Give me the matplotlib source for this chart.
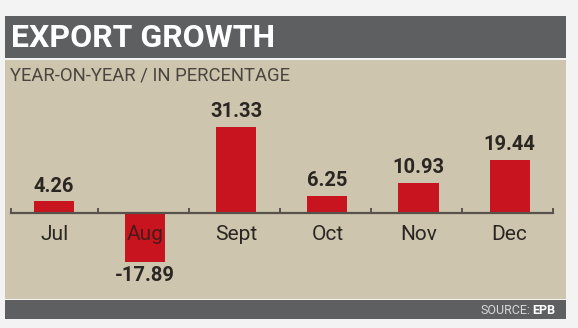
import matplotlib
matplotlib.use("Agg")
import matplotlib.pyplot as plt
from matplotlib.patches import Rectangle

months = ["Jul", "Aug", "Sept", "Oct", "Nov", "Dec"]
growth = [4.26, -17.89, 31.33, 6.25, 10.93, 19.44]

BG = "#f3f3f3"
DARK = "#5e5f61"
BEIGE = "#cec5ae"
RED = "#c8141f"
TXT = "#2a2622"
FONT = ["Roboto", "DejaVu Sans"]

W, H = 578, 328
fig = plt.figure(figsize=(W / 100, H / 100), dpi=100, facecolor=BG)

# fondo in coordinate pixel
bg = fig.add_axes([0, 0, 1, 1])
bg.set_xlim(0, W); bg.set_ylim(H, 0); bg.axis("off")
bg.add_patch(Rectangle((5, 16), 561, 42, fc=DARK, ec="none"))
bg.add_patch(Rectangle((5, 60), 561, 239, fc=BEIGE, ec="none"))
bg.add_patch(Rectangle((5, 300), 561, 19, fc=DARK, ec="none"))
bg.text(11, 38, "EXPORT GROWTH", color="white", fontsize=23, fontweight="bold",
        va="center", ha="left", family=FONT)
bg.text(10, 75, "YEAR-ON-YEAR / IN PERCENTAGE", color="#4a463f", fontsize=13.3,
        va="center", ha="left", family=FONT)
bg.text(530, 310, "SOURCE:", color="#d8d8d8", fontsize=9, va="center", ha="right", family=FONT)
bg.text(555, 310, "EPB", color="white", fontsize=9, fontweight="bold", va="center",
        ha="right", family=FONT)

# grafico
ax = fig.add_axes([5 / W, 1 - 298 / H, 561 / W, 238 / H])
ax.patch.set_alpha(0)
x = range(len(months))
ax.bar(x, growth, width=0.44, color=RED, zorder=2)
ax.set_xlim(-0.54, 5.62)
ax.set_ylim(-31.0, 55.7)
ax.axis("off")

ax.plot([-0.47, 5.48], [0, 0], color="#57524b", lw=1.6, zorder=3)
for t in [-0.47, 0.48, 1.48, 2.48, 3.48, 4.48, 5.48]:
    ax.plot([t, t], [0, 1.6], color="#57524b", lw=1.4, zorder=3)

for i, (m, v) in enumerate(zip(months, growth)):
    if v >= 0:
        ax.text(i, v + 2.0, f"{v:.2f}", ha="center", va="bottom", fontsize=14.5,
                fontweight="bold", color=TXT, family=FONT)
        ax.text(i, -4.5, m, ha="center", va="top", fontsize=15, color=TXT, family=FONT)
    else:
        ax.text(i, v - 1.5, f"{v:.2f}", ha="center", va="top", fontsize=14.5,
                fontweight="bold", color=TXT, family=FONT)
        ax.text(i, -4.5, m, ha="center", va="top", fontsize=15, color="#4a1a18",
                family=FONT, zorder=4)

fig.savefig("out.png", dpi=100, facecolor=BG)
